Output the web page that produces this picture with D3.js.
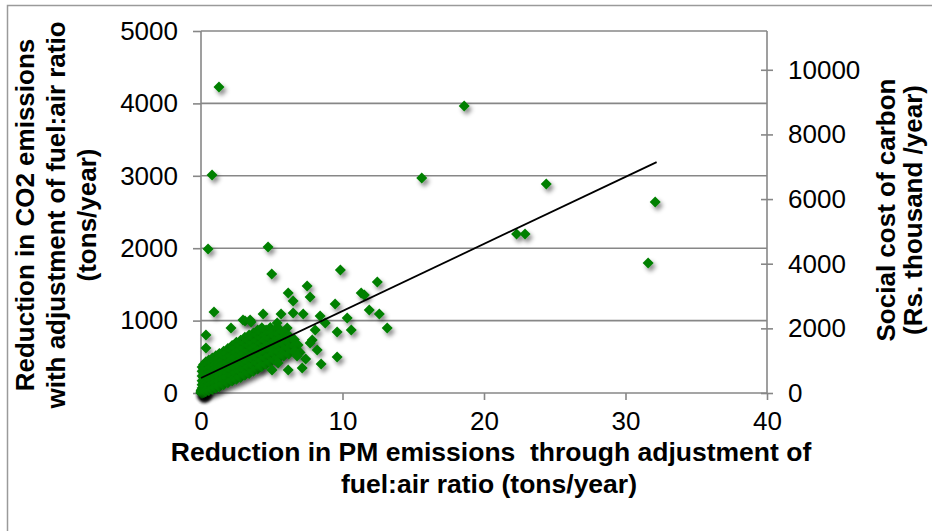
<!DOCTYPE html>
<html>
<head>
<meta charset="utf-8">
<script src="https://cdn.jsdelivr.net/npm/d3@7"></script>
<style>
  body { margin: 0; background: #fff; }
  svg { display: block; font-family: "Liberation Sans", Arial, sans-serif; }
</style>
</head>
<body>
<div id="chart"></div>
<script>
// tick labels
var xTicks = [0, 10, 20, 30, 40];
var yTicks = [0, 1000, 2000, 3000, 4000, 5000];
var y2Ticks = [0, 2000, 4000, 6000, 8000, 10000];

// dense cluster near the origin, read column by column: [PM reduction, CO2 reductions...]
var clusterCols = [
  [0.01, [0, 4, 10, 18, 30]],
  [0.04, [2, 8, 15, 26, 45]],
  [0.08, [0, 12, 35, 70, 115, 170, 235, 300, 360]],
  [0.12, [5, 20, 50]],
  [0.18, [8, 40, 95, 150, 210, 275, 335, 395]],
  [0.25, [15, 30, 60]],
  [0.35, [22, 75, 130, 185, 245, 300, 365, 430]],
  [0.55, [35, 95, 150, 215, 265, 335, 395, 455]],
  [0.8, [48, 110, 175, 235, 300, 355, 425, 485]],
  [1.05, [70, 135, 195, 265, 325, 395, 445, 515]],
  [1.3, [88, 160, 225, 285, 355, 410, 480, 545]],
  [1.6, [115, 185, 255, 315, 385, 445, 515, 575]],
  [1.9, [140, 215, 275, 350, 415, 485, 545, 615]],
  [2.2, [165, 240, 315, 375, 455, 515, 590, 655]],
  [2.5, [190, 265, 345, 410, 485, 555, 620, 700]],
  [2.8, [215, 300, 365, 445, 510, 585, 655, 730]],
  [3.1, [245, 320, 405, 470, 545, 615, 695, 770]],
  [3.4, [270, 355, 425, 505, 575, 655, 725, 800]],
  [3.7, [300, 380, 465, 535, 615, 685, 765, 830]],
  [4.0, [330, 415, 490, 575, 645, 725, 800, 870]],
  [4.3, [365, 450, 530, 605, 690, 760, 835, 900]],
  [4.6, [395, 480, 560, 645, 715, 800, 870]],
  [4.9, [425, 510, 595, 670, 755, 830, 905]],
  [5.2, [455, 545, 625, 710, 790, 870]],
  [5.5, [480, 565, 650, 735, 815, 890]],
  [5.85, [510, 595, 680, 760, 840]],
  [6.2, [540, 625, 705, 790]],
  [6.6, [575, 660, 740]]
];

// scattered points around the cluster
var spreadPoints = [
  [0.92, 1119], [0.35, 801], [0.35, 622], [0.28, 359], [2.12, 898], [3.11, 994],
  [3.54, 981], [4.39, 1091], [7.5, 1478], [6.16, 1381], [6.51, 1271], [7.71, 1326],
  [9.48, 1229], [5.66, 1091], [6.51, 1105], [7.22, 1091], [8.42, 1064], [8.78, 967],
  [3.47, 1008], [2.97, 1008], [5.38, 967], [6.09, 898], [8.07, 870], [9.62, 843],
  [7.86, 732], [7.71, 691], [6.86, 663], [8.21, 594], [9.62, 497], [6.79, 511],
  [8.49, 401], [7.15, 345], [6.16, 318], [5.45, 414], [5.8, 552], [5.1, 594],
  [4.18, 359], [5.02, 318], [6.3, 773], [5.73, 760], [5.1, 829], [12.46, 1533],
  [11.32, 1381], [11.54, 1354], [11.89, 1146], [12.6, 1091], [10.33, 1036],
  [10.62, 870], [13.16, 898], [4.53, 732], [4.74, 566], [7.0, 560], [7.4, 470]
];

// far outliers
var outlierPoints = [
  [1.27, 4227], [0.78, 3011], [18.6, 3964], [15.6, 2970], [24.4, 2887],
  [22.3, 2196], [22.9, 2196], [32.1, 2638], [31.6, 1796], [0.5, 1989],
  [4.74, 2016], [5.0, 1644], [9.85, 1699]
];

// linear trendline
var trendSlope = 92.6;
var trendIntercept = 207;
var trendRange = [0, 32.2];

var points = [];
clusterCols.forEach(function(c) {
  c[1].forEach(function(v) { points.push([c[0], v]); });
});
points = points.concat(spreadPoints, outlierPoints);

var W = 932, H = 531;
var svg = d3.select("#chart").append("svg")
  .attr("width", W)
  .attr("height", H);

var defs = svg.append("defs");
var f = defs.append("filter").attr("id", "sh")
  .attr("x", "-80%").attr("y", "-80%").attr("width", "260%").attr("height", "260%");
f.append("feDropShadow")
  .attr("dx", 2.5).attr("dy", 3.5).attr("stdDeviation", 2)
  .attr("flood-color", "#000").attr("flood-opacity", 0.45);

// outer frame
svg.append("rect")
  .attr("x", 7.5).attr("y", 5.5)
  .attr("width", 1000).attr("height", 1000)
  .attr("fill", "none").attr("stroke", "#9a9a9a").attr("stroke-width", 1.5);

var x = d3.scaleLinear().domain([0, 40]).range([201, 767]);
var y = d3.scaleLinear().domain([0, 5000]).range([393, 31]);
var y2 = d3.scaleLinear().domain([0, 11200]).range([393, 31]);

var grey = "#878787";

// gridlines
svg.append("g").selectAll("line")
  .data(yTicks).enter().append("line")
  .attr("x1", 201).attr("x2", 767)
  .attr("y1", function(d) { return y(d); })
  .attr("y2", function(d) { return y(d); })
  .attr("stroke", grey).attr("stroke-width", 1.6);

// axes
var fmt = d3.format("d");
var gy = svg.append("g").attr("transform", "translate(201,0)")
  .call(d3.axisLeft(y).tickValues(yTicks).tickFormat(fmt).tickSizeInner(8).tickSizeOuter(0).tickPadding(15));
var gx = svg.append("g").attr("transform", "translate(0,393)")
  .call(d3.axisBottom(x).tickValues(xTicks).tickFormat(fmt).tickSizeInner(7).tickSizeOuter(0).tickPadding(12));
var gy2 = svg.append("g").attr("transform", "translate(767,0)")
  .call(d3.axisRight(y2).tickValues(y2Ticks).tickFormat(fmt).tickSizeInner(6).tickSizeOuter(0).tickPadding(15));

[gy, gx, gy2].forEach(function(g) {
  g.select(".domain").remove();
  g.selectAll(".tick line").attr("stroke", grey).attr("stroke-width", 1.6);
  g.selectAll(".tick text").attr("font-size", 26).attr("fill", "#000")
    .attr("font-family", "'Liberation Sans', Arial, sans-serif");
});
gy2.selectAll(".tick line").attr("x1", -6);

svg.append("line").attr("x1", 201).attr("x2", 201).attr("y1", 31).attr("y2", 393)
  .attr("stroke", grey).attr("stroke-width", 1.6);
svg.append("line").attr("x1", 767).attr("x2", 767).attr("y1", 31).attr("y2", 393)
  .attr("stroke", grey).attr("stroke-width", 1.6);

// markers, drawn from upper-left to lower-right so shadows only show on the outer edge
var sorted = points.slice().sort(function(a, b) {
  return (x(a[0]) + y(a[1])) - (x(b[0]) + y(b[1]));
});
svg.append("g").selectAll("path")
  .data(sorted).enter().append("path")
  .attr("d", "M0,-5.5L5.5,0L0,5.5L-5.5,0Z")
  .attr("transform", function(d) { return "translate(" + x(d[0]) + "," + y(d[1]) + ")"; })
  .attr("fill", "#008000")
  .attr("filter", "url(#sh)");

// trendline
svg.append("line")
  .attr("x1", x(trendRange[0])).attr("y1", y(trendIntercept + trendSlope * trendRange[0]))
  .attr("x2", x(trendRange[1])).attr("y2", y(trendIntercept + trendSlope * trendRange[1]))
  .attr("stroke", "#000").attr("stroke-width", 1.8);

// axis titles
var xt = svg.append("text").attr("text-anchor", "middle")
  .attr("font-size", 26.5).attr("font-weight", "bold")
  .style("white-space", "pre");
xt.append("tspan").attr("x", 491).attr("y", 461).text("Reduction in PM emissions  through adjustment of");
xt.append("tspan").attr("x", 489).attr("y", 493).text("fuel:air ratio (tons/year)");

var yt = svg.append("text").attr("text-anchor", "middle")
  .attr("font-size", 26).attr("font-weight", "bold")
  .attr("transform", "rotate(-90)");
yt.append("tspan").attr("x", -215).attr("y", 34).text("Reduction in CO2 emissions");
yt.append("tspan").attr("x", -215).attr("y", 65).text("with adjustment of fuel:air ratio");
yt.append("tspan").attr("x", -215).attr("y", 96).text("(tons/year)");

var y2t = svg.append("text").attr("text-anchor", "middle")
  .attr("font-size", 26).attr("font-weight", "bold")
  .attr("transform", "rotate(-90)");
y2t.append("tspan").attr("x", -210).attr("y", 895).text("Social cost of carbon");
y2t.append("tspan").attr("x", -210).attr("y", 922).text("(Rs. thousand /year)");
</script>
</body>
</html>
